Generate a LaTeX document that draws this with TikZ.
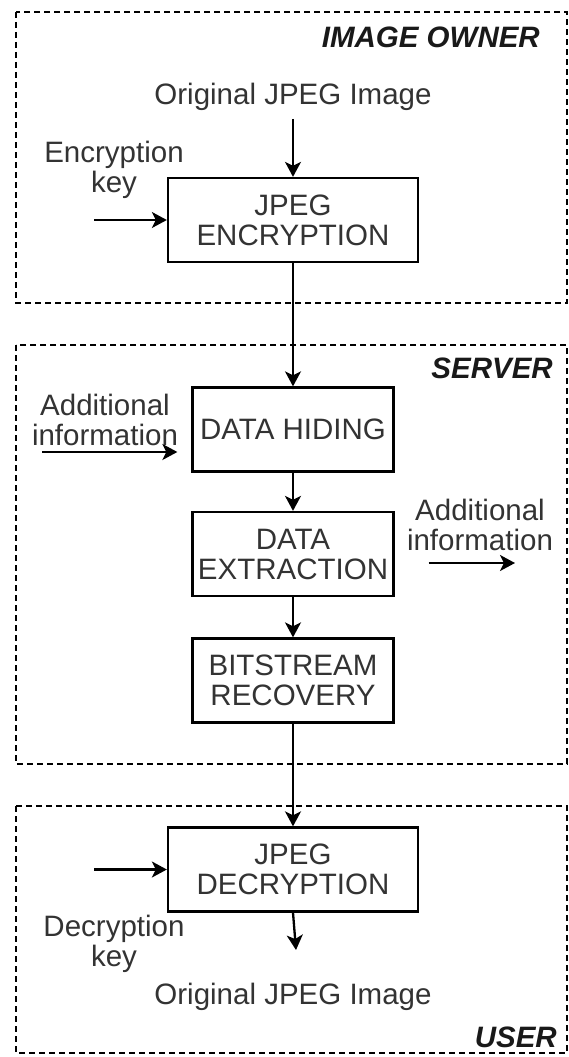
\documentclass[tikz,border=0pt]{standalone}
\usepackage{fontspec}
\setmainfont{Liberation Sans}
\usetikzlibrary{arrows.meta}
\begin{document}
\begin{tikzpicture}[x=1pt,y=-1pt,
  every node/.style={font=\fontsize{29.5}{30}\selectfont, text=black!80},
  stage/.style={draw=black, line width=2.3pt, align=center, inner sep=0pt, minimum height=84pt},
  zone/.style={draw=black, line width=1.7pt, dash pattern=on 6pt off 4pt},
  flow/.style={-{Stealth[length=15pt,width=16pt,inset=4pt]}, line width=2.3pt},
  txt/.style={align=center, inner sep=0pt},
  role/.style={font=\fontsize{29.5}{30}\selectfont\bfseries\itshape, inner sep=0pt, anchor=east, text=black!90}
]
% canvas
\fill[white] (0,0) rectangle (569,1057);
\useasboundingbox (0,0) rectangle (569,1057);

% party zones
\draw[zone] (16,12) rectangle (567,303);
\draw[zone] (16,345) rectangle (567,764);
\draw[zone] (16,806) rectangle (567,1053);
\node[role] (owner) at (540,37) {IMAGE OWNER};
\node[role] (server) at (553,368) {SERVER};
\node[role] (user) at (557,1037) {USER};

% processing stages
\node[stage, minimum width=250pt] (enc) at (293,220) {JPEG\\ENCRYPTION};
\node[stage, minimum width=201pt] (hid) at (293,429.5) {DATA HIDING};
\node[stage, minimum width=201pt] (ext) at (293,554) {DATA\\EXTRACTION};
\node[stage, minimum width=201pt] (bit) at (293,680.5) {BITSTREAM\\RECOVERY};
\node[stage, minimum width=250pt] (dec) at (293,869.5) {JPEG\\DECRYPTION};

% free texts
\node[txt] (origin) at (293,97) {Original JPEG Image};
\node[txt] (enckey) at (114,170) {Encryption\\key};
\node[txt] (addl) at (105,420) {Additional\\information};
\node[txt] (addr) at (480,525) {Additional\\information};
\node[txt] (deckey) at (114,944) {Decryption\\key};
\node[txt] (result) at (293,997) {Original JPEG Image};

% loose arrow ends
\coordinate (enckeyin) at (94,220);
\coordinate (addin) at (42,452);
\coordinate (addout) at (515,563);
\coordinate (deckeyin) at (94,869.5);
\coordinate (decout) at (296,950);

% main flow
\draw[flow, shorten <=8pt] (origin) -- (enc);
\draw[flow] (enc) -- (hid);
\draw[flow] (hid) -- (ext);
\draw[flow] (ext) -- (bit);
\draw[flow] (bit) -- (dec);
\draw[flow] (dec.south) -- (decout);

% side inputs and output
\draw[flow] (enckeyin) -- (enc.west);
\draw[flow, shorten >=14pt] (addin) -- (addin -| hid.west);
\draw[flow, shorten <=34pt] (addout -| ext.east) -- (addout);
\draw[flow] (deckeyin) -- (dec.west);
\end{tikzpicture}
\end{document}
